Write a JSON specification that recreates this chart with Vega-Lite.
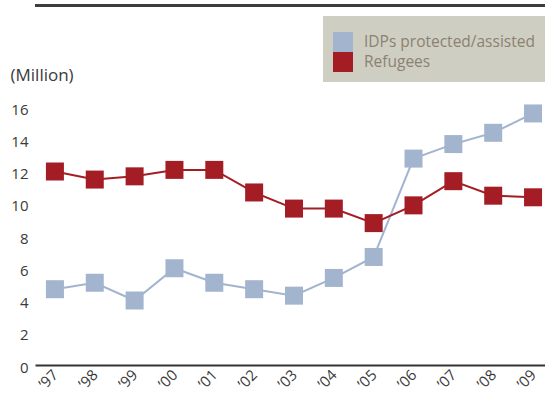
{
  "$schema": "https://vega.github.io/schema/vega-lite/v6.json",
  "width": 510,
  "height": 258,
  "autosize": {"type": "none"},
  "padding": {"left": 35, "top": 107, "right": 0, "bottom": 35},
  "background": "white",
  "config": {
    "view": {"stroke": null},
    "font": "Open Sans",
    "axisX": {"title": null, "labelAngle": -45, "labelAlign": "right", "labelBaseline": "middle", "labelFontSize": 15, "labelColor": "#3a3a3a", "ticks": false, "domainColor": "#333333", "domainWidth": 2, "labelPadding": 7, "grid": false, "labelOverlap": false},
    "axisY": {"titleAngle": 0, "titleAlign": "left", "titleBaseline": "middle", "titleX": -25, "titleY": -32, "titleFontSize": 17, "titleFontWeight": "normal", "titleColor": "#3a3a3a", "labelFontSize": 15, "labelColor": "#3a3a3a", "ticks": false, "domain": false, "grid": false, "labelPadding": 7, "labelOffset": 2, "labelOverlap": false},
    "legend": {"orient": "none", "legendX": 288, "legendY": -91, "titleFontSize": 4, "titlePadding": 2, "fillColor": "#cfcec3", "padding": 10, "symbolType": "square", "symbolSize": 400, "symbolStrokeWidth": 0, "symbolOpacity": 1, "rowPadding": 0, "labelFontSize": 15.5, "labelLimit": 400, "labelColor": "#8a8270", "labelOffset": 11}
  },
  "data": {
    "values": [
      {"year": "’97", "series": "IDPs protected/assisted", "value": 4.7},
      {"year": "’97", "series": "Refugees", "value": 12.0},
      {"year": "’98", "series": "IDPs protected/assisted", "value": 5.1},
      {"year": "’98", "series": "Refugees", "value": 11.5},
      {"year": "’99", "series": "IDPs protected/assisted", "value": 4.0},
      {"year": "’99", "series": "Refugees", "value": 11.7},
      {"year": "’00", "series": "IDPs protected/assisted", "value": 6.0},
      {"year": "’00", "series": "Refugees", "value": 12.1},
      {"year": "’01", "series": "IDPs protected/assisted", "value": 5.1},
      {"year": "’01", "series": "Refugees", "value": 12.1},
      {"year": "’02", "series": "IDPs protected/assisted", "value": 4.7},
      {"year": "’02", "series": "Refugees", "value": 10.7},
      {"year": "’03", "series": "IDPs protected/assisted", "value": 4.3},
      {"year": "’03", "series": "Refugees", "value": 9.7},
      {"year": "’04", "series": "IDPs protected/assisted", "value": 5.4},
      {"year": "’04", "series": "Refugees", "value": 9.7},
      {"year": "’05", "series": "IDPs protected/assisted", "value": 6.7},
      {"year": "’05", "series": "Refugees", "value": 8.8},
      {"year": "’06", "series": "IDPs protected/assisted", "value": 12.8},
      {"year": "’06", "series": "Refugees", "value": 9.9},
      {"year": "’07", "series": "IDPs protected/assisted", "value": 13.7},
      {"year": "’07", "series": "Refugees", "value": 11.4},
      {"year": "’08", "series": "IDPs protected/assisted", "value": 14.4},
      {"year": "’08", "series": "Refugees", "value": 10.5},
      {"year": "’09", "series": "IDPs protected/assisted", "value": 15.6},
      {"year": "’09", "series": "Refugees", "value": 10.4}
    ]
  },
  "layer": [
    {
      "mark": {"type": "rule", "color": "#3d3d3d", "strokeWidth": 3},
      "encoding": {"y": {"datum": 22.3, "type": "quantitative", "scale": {"domain": [0, 16]}, "title": "(Million)", "axis": {"values": [0, 2, 4, 6, 8, 10, 12, 14, 16], "title": "(Million)"}}}
    },
    {
      "mark": {"type": "line", "strokeWidth": 2},
      "encoding": {
        "x": {"field": "year", "type": "ordinal", "sort": null, "scale": {"type": "point", "padding": 0.4, "align": 0.625}, "title": null},
        "y": {"field": "value", "type": "quantitative", "scale": {"domain": [0, 16]}, "title": "(Million)", "axis": {"values": [0, 2, 4, 6, 8, 10, 12, 14, 16], "title": "(Million)"}},
        "color": {"field": "series", "type": "nominal", "scale": {"domain": ["IDPs protected/assisted", "Refugees"], "range": ["#a3b4cf", "#a51d24"]}, "legend": {"title": " "}}
      }
    },
    {
      "mark": {"type": "point", "shape": "square", "filled": true, "size": 324, "opacity": 1},
      "encoding": {
        "x": {"field": "year", "type": "ordinal", "sort": null, "title": null},
        "y": {"field": "value", "type": "quantitative", "title": "(Million)", "axis": {"values": [0, 2, 4, 6, 8, 10, 12, 14, 16], "title": "(Million)"}},
        "color": {"field": "series", "type": "nominal", "legend": {"title": " "}}
      }
    }
  ]
}
